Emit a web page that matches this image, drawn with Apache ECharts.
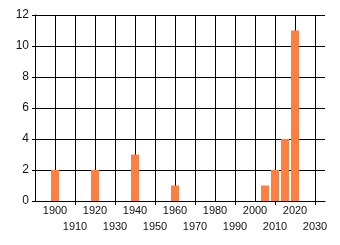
<!DOCTYPE html>
<html><head><meta charset="utf-8">
<script src="https://cdn.jsdelivr.net/npm/echarts@6/dist/echarts.min.js"></script>
<style>html,body{margin:0;padding:0;background:#fff}#c{width:340px;height:245px}</style>
</head><body><div id="c"></div>
<script>
var years = [1900, 1920, 1940, 1960, 2005, 2010, 2015, 2020];
var counts = [2, 2, 3, 1, 1, 2, 4, 11];
var xUpperLabels = [1900, 1920, 1940, 1960, 1980, 2000, 2020];
var xLowerLabels = [1910, 1930, 1950, 1970, 1990, 2010, 2030];
var yTicks = [0, 2, 4, 6, 8, 10, 12];

var chart = echarts.init(document.getElementById('c'), null, {renderer: 'canvas'});
var font = 'Liberation Sans';
var lbl = {fontFamily: font, fontSize: 11, color: '#111', showMinLabel: true, showMaxLabel: true, hideOverlap: false,
  formatter: function (v) { return String(Math.round(v)); }};
chart.setOption({
  animation: false,
  grid: {left: 35, right: 15, top: 15, bottom: 44, containLabel: false},
  xAxis: [{
    type: 'value', min: 1890, max: 2035, interval: 10,
    axisLine: {show: true, lineStyle: {color: '#000', width: 1}},
    axisTick: {show: false},
    splitLine: {show: true, showMinLine: false, showMaxLine: false, lineStyle: {color: '#000', width: 1}},
    axisLabel: Object.assign({customValues: xUpperLabels, margin: 4}, lbl)
  }, {
    type: 'value', min: 1890, max: 2035, position: 'bottom', offset: 0,
    axisLine: {show: false},
    axisTick: {show: true, length: 4, customValues: xLowerLabels, lineStyle: {color: '#000'}},
    splitLine: {show: false},
    axisLabel: Object.assign({customValues: xLowerLabels, margin: 20}, lbl)
  }],
  yAxis: {
    type: 'value', min: yTicks[0], max: yTicks[yTicks.length - 1], interval: 2,
    axisLine: {show: true, lineStyle: {color: '#000', width: 1}},
    axisTick: {show: true, length: 3, lineStyle: {color: '#000'}},
    splitLine: {show: true, lineStyle: {color: '#000', width: 1}},
    axisLabel: {margin: 6, fontFamily: font, fontSize: 12, color: '#111'}
  },
  series: [{
    type: 'bar', barWidth: 8, xAxisIndex: 0,
    itemStyle: {color: '#ff7f40'},
    data: years.map(function (y, i) { return [y, counts[i]]; })
  }]
});
</script></body></html>
